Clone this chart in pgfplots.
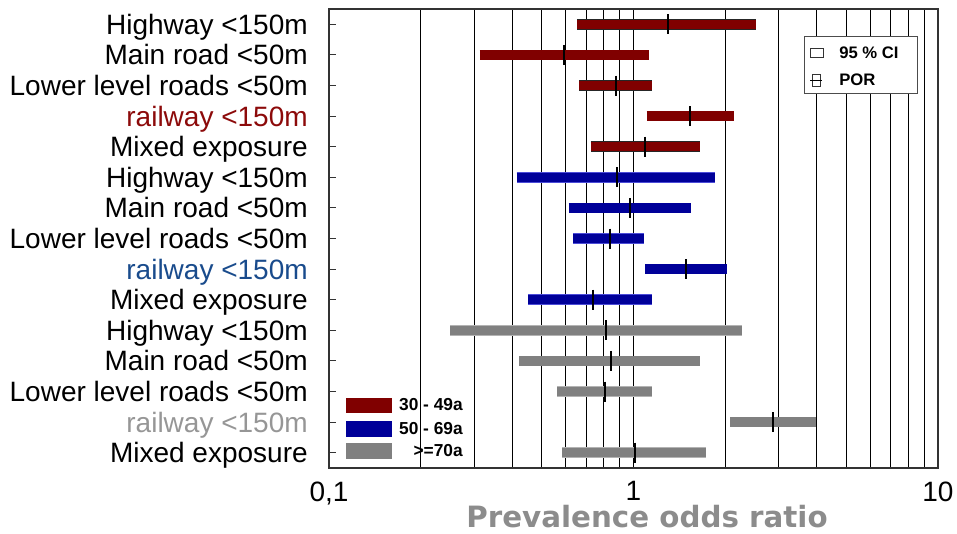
\documentclass[border=0pt]{standalone}
\usepackage{pgfplots}
\pgfplotsset{compat=1.18}
\usepackage{fontspec}
\setmainfont{Liberation Sans}
\newfontfamily\dejavu{DejaVu Sans}
\definecolor{barred}{RGB}{128,0,0}
\definecolor{barblue}{RGB}{0,0,153}
\definecolor{bargray}{RGB}{128,128,128}
\definecolor{labred}{RGB}{140,10,10}
\definecolor{labblue}{RGB}{25,75,140}
\definecolor{labgray}{RGB}{150,150,150}
\definecolor{titlegray}{RGB}{140,140,140}
\tikzset{
  barR/.style={draw=black!85, line width=0.5pt, double=barred, double distance=7pt},
  barB/.style={draw=blue!45!barblue!70!white, line width=0.5pt, double=barblue, double distance=7pt},
  barG/.style={draw=bargray!60, line width=0.5pt, double=bargray, double distance=7pt},
  por/.style={only marks, mark=|, mark size=7.5pt, mark options={line width=1.5pt, black}},
}
\begin{document}
\begin{tikzpicture}
\useasboundingbox (-246.75pt,-48.75pt) rectangle (471pt,351pt);
\begin{axis}[
  at={(0pt,0pt)}, anchor=south west,
  scale only axis, width=456.75pt, height=344.25pt,
  xmode=log, log basis x=10,
  xmin=0.1, xmax=10, ymin=0.5, ymax=15.5, y dir=reverse,
  xtick={0.1,1,10}, xticklabels={{0,1},{1},{10}},
  minor xtick={0.2,0.3,0.4,0.5,0.6,0.7,0.8,0.9,2,3,4,5,6,7,8,9},
  xmajorgrids, xminorgrids,
  major grid style={black, line width=0.75pt},
  minor grid style={black, line width=0.75pt},
  xtick style={draw=none},
  minor tick length=0pt,
  ytick={1,...,15}, ytick pos=left, tick align=inside,
  major tick length=5pt,
  ytick style={black!80, line width=0.75pt},
  axis line style={black!80, line width=0.9pt},
  yticklabels={Highway <150m, Main road <50m, Lower level roads <50m, \textcolor{labred}{railway <150m}, Mixed exposure,
               Highway <150m, Main road <50m, Lower level roads <50m, \textcolor{labblue}{railway <150m}, Mixed exposure,
               Highway <150m, Main road <50m, Lower level roads <50m, \textcolor{labgray}{railway <150m}, Mixed exposure},
  yticklabel style={font=\fontsize{21}{21}\selectfont, inner sep=0pt, anchor=base east, xshift=-15.75pt, yshift=-7.5pt},
  xticklabel style={font=\fontsize{21}{21}\selectfont, inner sep=0pt, anchor=north, yshift=-10pt},
]
% 30-49a
\addplot[barR] coordinates {(0.654,1) (2.53,1)};
\addplot[barR] coordinates {(0.313,2) (1.123,2)};
\addplot[barR] coordinates {(0.664,3) (1.151,3)};
\addplot[barR] coordinates {(1.106,4) (2.135,4)};
\addplot[barR] coordinates {(0.723,5) (1.656,5)};
% 50-69a
\addplot[barB] coordinates {(0.413,6) (1.855,6)};
\addplot[barB] coordinates {(0.613,7) (1.548,7)};
\addplot[barB] coordinates {(0.634,8) (1.083,8)};
\addplot[barB] coordinates {(1.093,9) (2.033,9)};
\addplot[barB] coordinates {(0.452,10) (1.154,10)};
% >=70a
\addplot[barG] coordinates {(0.250,11) (2.276,11)};
\addplot[barG] coordinates {(0.421,12) (1.651,12)};
\addplot[barG] coordinates {(0.561,13) (1.154,13)};
\addplot[barG] coordinates {(2.077,14) (3.97,14)};
\addplot[barG] coordinates {(0.582,15) (1.734,15)};
% POR
\addplot[por] coordinates {
  (1.297,1) (0.593,2) (0.874,3) (1.534,4) (1.093,5)
  (0.885,6) (0.973,7) (0.835,8) (1.488,9) (0.734,10)
  (0.812,11) (0.845,12) (0.805,13) (2.872,14) (1.012,15)};
\end{axis}
% legend: CI / POR
\draw[black!70, fill=white, line width=0.6pt] (356.25pt,281.25pt) rectangle (441pt,324pt);
\draw[black!80, line width=0.5pt] (360.75pt,308.25pt) rectangle (370.5pt,315pt);
\node[anchor=west, inner sep=0pt, font=\bfseries\fontsize{12.5}{12.5}\selectfont] at (382.5pt,311.25pt) {95 \% CI};
\draw[black!80, line width=0.5pt] (362.25pt,286.5pt) rectangle (368.25pt,295.5pt);
\draw[black, line width=0.6pt] (360.75pt,291pt) -- (369.75pt,291pt);
\node[anchor=west, inner sep=0pt, font=\bfseries\fontsize{12.5}{12.5}\selectfont] at (382.5pt,291pt) {POR};
% legend: age groups
\fill[barred] (12.75pt,41.25pt) rectangle (47.25pt,52.5pt);
\fill[barblue] (12.75pt,23.25pt) rectangle (47.25pt,35.25pt);
\fill[bargray] (12.75pt,6.75pt) rectangle (47.25pt,18.75pt);
\node[anchor=east, inner sep=0pt, font=\bfseries\fontsize{13}{13}\selectfont] at (100.5pt,47.25pt) {30 - 49a};
\node[anchor=east, inner sep=0pt, font=\bfseries\fontsize{13}{13}\selectfont] at (100.5pt,29.25pt) {50 - 69a};
\node[anchor=east, inner sep=0pt, font=\bfseries\fontsize{13}{13}\selectfont] at (100.5pt,12.75pt) {>=70a};
% axis title
\node[anchor=base, inner sep=0pt, text=titlegray, font=\dejavu\bfseries\fontsize{22}{22}\selectfont] at (238.5pt,-44.75pt) {Prevalence odds ratio};
\end{tikzpicture}
\end{document}
